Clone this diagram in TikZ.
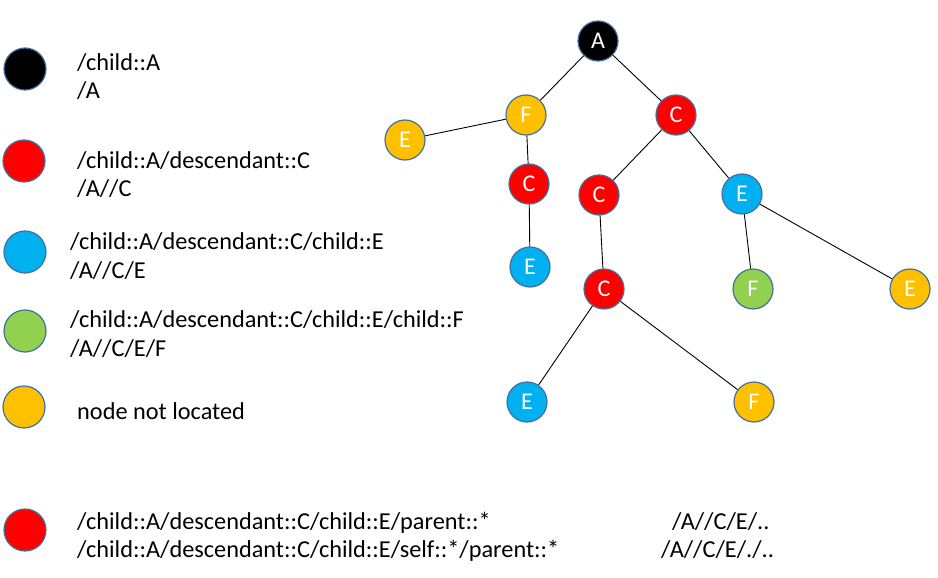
\documentclass[tikz,border=0pt]{standalone}
\usepackage{fontspec}
\setmainfont{Carlito}
\definecolor{cred}{HTML}{FF0000}
\definecolor{cblue}{HTML}{00B0F0}
\definecolor{cgreen}{HTML}{92D050}
\definecolor{cyellow}{HTML}{FFC000}
\definecolor{cedge}{HTML}{41719C}
\begin{document}
\begin{tikzpicture}[x=1pt,y=-1pt,
  tn/.style={circle,draw=cedge,line width=1.2pt,minimum size=40pt,inner sep=0pt,text=white,font=\fontsize{24}{24}\selectfont},
  ln/.style={circle,draw=cedge,line width=1.2pt,minimum size=42pt,inner sep=0pt},
  lt/.style={anchor=base west,inner sep=0pt,font=\fontsize{24.3}{28}\selectfont},
  ed/.style={draw=black,line width=0.9pt}]
\useasboundingbox (0,0) rectangle (938,578);
% tree
\node[tn,fill=black]   (A)  at (598,41)  {A};
\node[tn,fill=cyellow] (F1) at (526,115) {F};
\node[tn,fill=cyellow] (E1) at (405,140) {E};
\node[tn,fill=cred]    (C1) at (676,115) {C};
\node[tn,fill=cred]    (C2) at (529,184) {C};
\node[tn,fill=cblue]   (E2) at (530,267) {E};
\node[tn,fill=cred]    (C3) at (599,195) {C};
\node[tn,fill=cblue]   (E3) at (742,194) {E};
\node[tn,fill=cred]    (C4) at (604,289) {C};
\node[tn,fill=cgreen]  (F2) at (753,289) {F};
\node[tn,fill=cyellow] (E4) at (910,289) {E};
\node[tn,fill=cblue]   (E5) at (527,402) {E};
\node[tn,fill=cyellow] (F3) at (754,402) {F};
\draw[ed] (A) -- (F1);
\draw[ed] (A) -- (C1);
\draw[ed] (F1) -- (E1);
\draw[ed] (F1) -- (C2);
\draw[ed] (C2) -- (E2);
\draw[ed] (C1) -- (C3);
\draw[ed] (C1) -- (E3);
\draw[ed] (C3) -- (C4);
\draw[ed] (E3) -- (F2);
\draw[ed] (E3) -- (E4);
\draw[ed] (C4) -- (E5);
\draw[ed] (C4) -- (F3);
% legend
\node[ln,fill=black]   (L1) at (25,69)  {};
\node[ln,fill=cred]    (L2) at (24,161) {};
\node[ln,fill=cblue]   (L3) at (25,252) {};
\node[ln,fill=cgreen]  (L4) at (25,331) {};
\node[ln,fill=cyellow] (L5) at (24,407) {};
\node[ln,fill=cred]    (L6) at (25,530) {};
\node[lt] (t1a) at (77,71)  {/child::A};
\node[lt] (t1b) at (77,99)  {/A};
\node[lt] (t2a) at (77,168) {/child::A/descendant::C};
\node[lt] (t2b) at (77,196) {/A//C};
\node[lt] (t3a) at (70,249) {/child::A/descendant::C/child::E};
\node[lt] (t3b) at (70,278) {/A//C/E};
\node[lt] (t4a) at (70,327) {/child::A/descendant::C/child::E/child::F};
\node[lt] (t4b) at (70,356) {/A//C/E/F};
\node[lt] (t5)  at (77,419) {node not located};
\node[lt] (t6a) at (77,529) {/child::A/descendant::C/child::E/parent::*};
\node[lt] (t6b) at (77,557) {/child::A/descendant::C/child::E/self::*/parent::*};
\node[lt] (t6c) at (672,529) {/A//C/E/..};
\node[lt] (t6d) at (661,557) {/A//C/E/./..};
\end{tikzpicture}
\end{document}
